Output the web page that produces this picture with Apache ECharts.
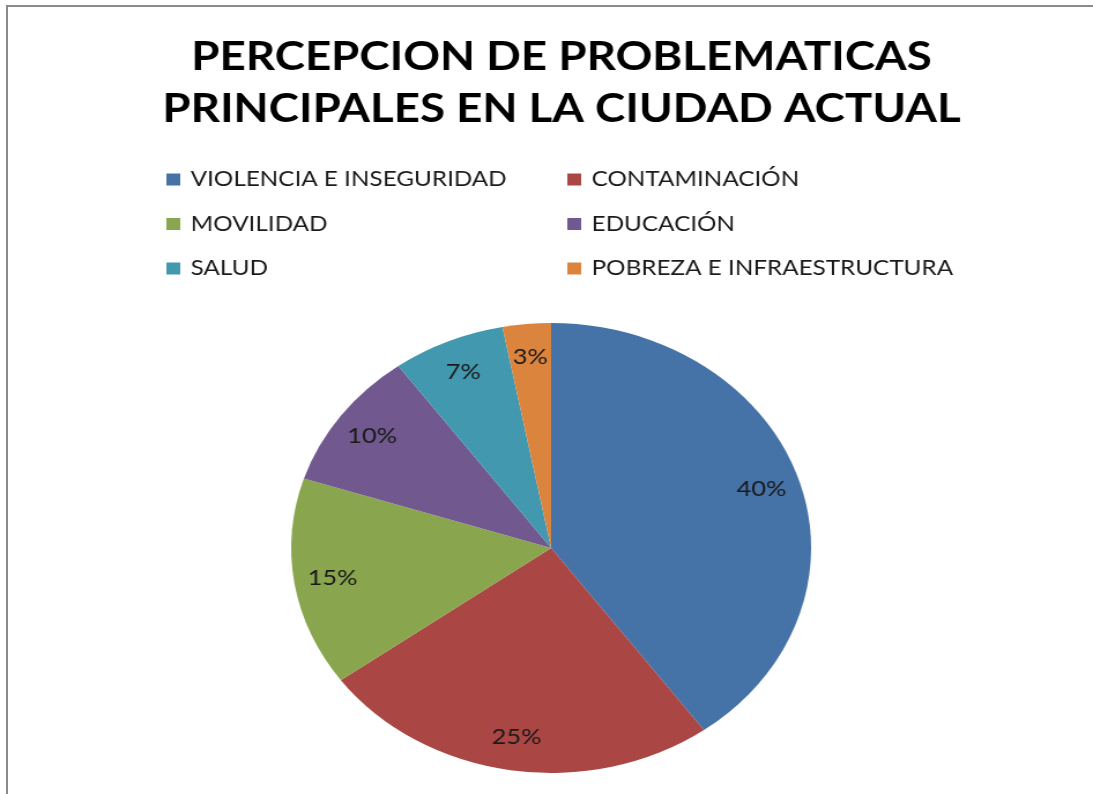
<!DOCTYPE html>
<html>
<head>
<meta charset="utf-8">
<script src="https://cdn.jsdelivr.net/npm/echarts@6/dist/echarts.min.js"></script>
<style>
html,body{margin:0;padding:0;background:#fff;overflow:hidden;}
#frame{position:absolute;left:6px;top:5px;width:1200px;height:900px;border-top:2px solid #8a8a8a;border-left:2px solid #8a8a8a;}
#wrap{position:absolute;left:0;top:0;width:946px;height:794px;transform:scaleX(1.1554);transform-origin:0 0;}
</style>
</head>
<body>
<div id="frame"></div>
<div id="wrap"></div>
<script>
const titleLines = ['PERCEPCION DE PROBLEMATICAS', 'PRINCIPALES EN LA CIUDAD ACTUAL'];
const categories = ['VIOLENCIA E INSEGURIDAD', 'CONTAMINACIÓN', 'MOVILIDAD', 'EDUCACIÓN', 'SALUD', 'POBREZA E INFRAESTRUCTURA'];
const values = [40, 25, 15, 10, 7, 3];
const colors = ['#4572A7', '#AA4643', '#89A54E', '#71588F', '#4198AF', '#DB843D'];
const legendCol1 = [categories[0], categories[2], categories[4]];
const legendCol2 = [categories[1], categories[3], categories[5]];

const chart = echarts.init(document.getElementById('wrap'), null, {renderer: 'canvas'});
const pieData = categories.map((c, i) => ({name: c, value: values[i], itemStyle: {color: colors[i]}}));
const labelData = categories.map((c, i) => ({name: c, value: values[i]}));
const legendText = {fontFamily: 'Lato', fontSize: 21, color: '#1a1a1a', lineHeight: 21, padding: [0, 0, 0, 4]};
const center = [477, 548];

chart.setOption({
  backgroundColor: 'transparent',
  animation: false,
  title: {
    text: titleLines.join('\n'),
    left: 481,
    top: 26,
    textAlign: 'center',
    textStyle: {fontFamily: 'Lato', fontWeight: 'bold', fontSize: 39.5, lineHeight: 52, color: '#000'}
  },
  legend: [
    {data: legendCol1, orient: 'vertical', left: 139, top: 164, itemWidth: 12, itemHeight: 12, itemGap: 23.5, icon: 'rect', textStyle: legendText, selectedMode: false},
    {data: legendCol2, orient: 'vertical', left: 486, top: 164, itemWidth: 12, itemHeight: 12, itemGap: 23.5, icon: 'rect', textStyle: legendText, selectedMode: false}
  ],
  series: [
    {
      type: 'pie',
      center: center,
      radius: [0, 225],
      startAngle: 90,
      clockwise: true,
      label: {show: false},
      labelLine: {show: false},
      itemStyle: {borderWidth: 0},
      emphasis: {disabled: true},
      data: pieData
    },
    {
      type: 'pie',
      center: center,
      radius: [152, 225],
      startAngle: 90,
      clockwise: true,
      silent: true,
      itemStyle: {color: 'rgba(0,0,0,0)', borderWidth: 0},
      label: {show: true, position: 'inside', formatter: '{c}%', fontFamily: 'Lato', fontSize: 22, color: '#1a1a1a'},
      labelLine: {show: false},
      emphasis: {disabled: true},
      data: labelData,
      legendHoverLink: false
    }
  ]
});
</script>
</body>
</html>
